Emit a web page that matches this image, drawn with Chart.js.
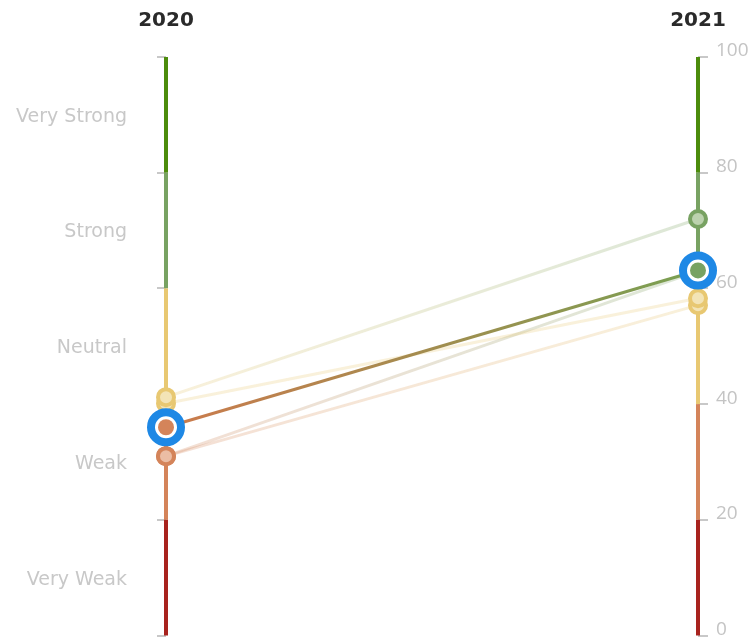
<!DOCTYPE html>
<html>
<head>
<meta charset="utf-8">
<script src="https://cdn.jsdelivr.net/npm/chart.js@4/dist/chart.umd.min.js"></script>
<style>
  html, body { margin: 0; padding: 0; background: #ffffff; overflow: hidden; }
  canvas { display: block; }
</style>
</head>
<body>
<canvas id="c" width="751" height="639" style="width:751px;height:639px"></canvas>
<script>
// ---- data ----
const years = ['2020', '2021'];
const bandEdges = [0, 20, 40, 60, 80, 100];
const bandNames = ['Very Weak', 'Weak', 'Neutral', 'Strong', 'Very Strong'];
const rightTickValues = [0, 20, 40, 60, 80, 100];
const values2020 = [41.2, 40.1, 36, 31, 31];
const values2021 = [72, 58.3, 63.1, 63, 57.1];
const highlightIndex = 2;

// ---- styles ----
const bandColors = ['#a8231e', '#d4845a', '#e8c872', '#78a262', '#4c8c0c'];
const bandFills  = ['#d89490', '#ebbda4', '#f3e4b6', '#bcd2ae', '#a6c88a'];
const highlightBlue = '#1e88e5';

function bandOf(v) {
  for (let i = 0; i < bandNames.length; i++) {
    if (v < bandEdges[i + 1]) return i;
  }
  return bandNames.length - 1;
}
function hexToRgba(hex, a) {
  const n = parseInt(hex.slice(1), 16);
  return 'rgba(' + ((n >> 16) & 255) + ',' + ((n >> 8) & 255) + ',' + (n & 255) + ',' + a + ')';
}
function gradientColor(c1, c2, alpha) {
  return (ctx) => {
    const chart = ctx.chart;
    const area = chart.chartArea;
    if (!area) return hexToRgba(c1, alpha);
    const g = chart.ctx.createLinearGradient(area.left, 0, area.right, 0);
    g.addColorStop(0, hexToRgba(c1, alpha));
    g.addColorStop(1, hexToRgba(c2, alpha));
    return g;
  };
}

const datasets = [];

// axis segments (colored bands) at both years
[0, 1].forEach(xv => {
  for (let i = 0; i < bandNames.length; i++) {
    datasets.push({
      data: [{ x: xv, y: bandEdges[i] }, { x: xv, y: bandEdges[i + 1] }],
      borderColor: bandColors[i],
      borderWidth: 4,
      pointRadius: 0,
      borderCapStyle: 'butt',
      clip: false,
      order: 20
    });
  }
});

// faint lines
values2020.forEach((v0, k) => {
  if (k === highlightIndex) return;
  const v1 = values2021[k];
  datasets.push({
    data: [{ x: 0, y: v0 }, { x: 1, y: v1 }],
    borderColor: gradientColor(bandColors[bandOf(v0)], bandColors[bandOf(v1)], 0.26),
    borderWidth: 3,
    pointRadius: 0,
    clip: false,
    order: 10
  });
});

// normal points
values2020.forEach((v0, k) => {
  if (k === highlightIndex) return;
  const v1 = values2021[k];
  datasets.push({
    data: [{ x: 0, y: v0 }, { x: 1, y: v1 }],
    showLine: false,
    pointRadius: 8,
    pointBorderWidth: 4,
    pointBorderColor: [bandColors[bandOf(v0)], bandColors[bandOf(v1)]],
    pointBackgroundColor: [bandFills[bandOf(v0)], bandFills[bandOf(v1)]],
    clip: false,
    order: 5
  });
});

// highlighted line
(function () {
  const v0 = values2020[highlightIndex], v1 = values2021[highlightIndex];
  datasets.push({
    data: [{ x: 0, y: v0 }, { x: 1, y: v1 }],
    borderColor: gradientColor('#cc7a4c', '#78a052', 1),
    borderWidth: 3,
    pointRadius: 0,
    clip: false,
    order: 3
  });
  datasets.push({
    data: [{ x: 0, y: v0 }, { x: 1, y: v1 }],
    showLine: false,
    pointRadius: 15,
    pointBorderWidth: 8,
    pointBorderColor: highlightBlue,
    pointBackgroundColor: '#ffffff',
    clip: false,
    order: 2
  });
  datasets.push({
    data: [{ x: 0, y: v0 }, { x: 1, y: v1 }],
    showLine: false,
    pointRadius: 8,
    pointBorderWidth: 0,
    pointBackgroundColor: [bandColors[bandOf(v0)], bandColors[bandOf(v1)]],
    clip: false,
    order: 1
  });
})();

new Chart(document.getElementById('c'), {
  type: 'line',
  data: { datasets },
  options: {
    responsive: false,
    animation: false,
    devicePixelRatio: 1,
    events: [],
    layout: { autoPadding: false, padding: { left: 0, right: 0, top: 0, bottom: 3.5 } },
    plugins: { legend: { display: false }, tooltip: { enabled: false } },
    scales: {
      x: {
        type: 'linear',
        position: 'top',
        min: 0,
        max: 1,
        grid: { display: false, drawTicks: false },
        border: { display: false },
        ticks: {
          stepSize: 1,
          autoSkip: false,
          maxRotation: 0,
          padding: 24,
          color: '#2a2a2a',
          font: { family: 'DejaVu Sans', size: 20, weight: 'bold' },
          callback: v => (v === 0 || v === 1) ? years[v] : ''
        },
        afterFit: s => { s.height = 57; s.paddingLeft = 0; s.paddingRight = 0; }
      },
      y: {
        type: 'linear',
        position: 'right',
        min: 0,
        max: 100,
        afterBuildTicks: s => { s.ticks = rightTickValues.map(v => ({ value: v })); },
        grid: { drawOnChartArea: false, drawTicks: true, tickLength: 10, color: '#c8c8c8', lineWidth: 2 },
        border: { display: false },
        ticks: {
          padding: 8,
          labelOffset: -6,
          color: '#c4c4c4',
          font: { family: 'Open Sans', size: 19 }
        },
        afterFit: s => { s.width = 53; s.paddingTop = 0; s.paddingBottom = 0; }
      },
      yL: {
        type: 'linear',
        position: 'left',
        min: 0,
        max: 100,
        afterBuildTicks: s => {
          const t = [];
          for (let v = 0; v <= 100; v += 10) t.push({ value: v });
          s.ticks = t;
        },
        grid: {
          drawOnChartArea: false,
          drawTicks: true,
          tickLength: 9,
          lineWidth: 2,
          color: ctx => (ctx.tick && ctx.tick.value % 20 === 0) ? '#c8c8c8' : 'rgba(0,0,0,0)'
        },
        border: { display: false },
        ticks: {
          padding: 30,
          labelOffset: 2,
          color: '#c8c8c8',
          font: { family: 'DejaVu Sans', size: 19 },
          callback: v => (v % 20 === 10) ? bandNames[(v - 10) / 20] : ''
        },
        afterFit: s => { s.width = 166; s.paddingTop = 0; s.paddingBottom = 0; }
      }
    }
  }
});
</script>
</body>
</html>
